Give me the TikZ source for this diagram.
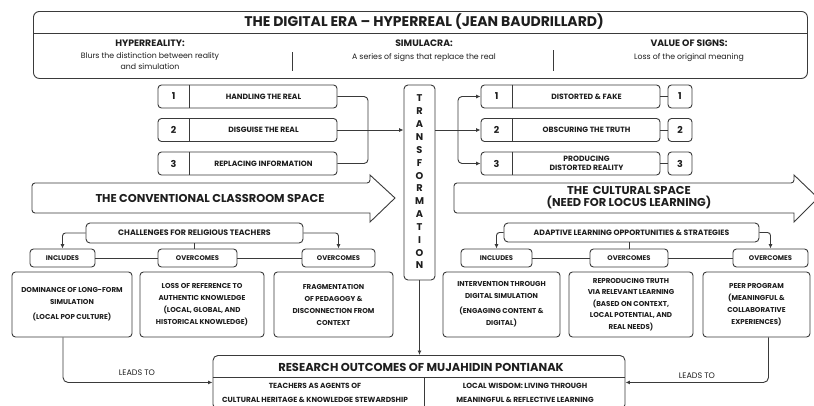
\documentclass[tikz,border=0pt]{standalone}
\usepackage{fontspec}
\setmainfont{Poppins}
\usetikzlibrary{arrows.meta,calc}
\definecolor{lc}{HTML}{3A3A3A}
\definecolor{tc}{HTML}{1E1E1E}
\newcommand{\fsz}[2]{\fontsize{#1}{#2}\selectfont}
\begin{document}
\begin{tikzpicture}[x=1pt,y=-1pt,
  box/.style={draw=lc, line width=0.9pt, rounded corners=3.5pt, fill=white, inner sep=0pt, text=tc},
  bt/.style={font=\bfseries\fsz{7.6}{9}, text=tc, align=center, inner sep=0pt},
  num/.style={font=\bfseries\fsz{9.5}{10}, text=tc, inner sep=0pt},
  ct/.style={box, font=\bfseries\fsz{7.1}{12}, align=center},
  tag/.style={box, font=\bfseries\fsz{6.8}{8}, minimum height=18pt},
  arr/.style={-{Latex[length=4.5pt,width=4pt]}, draw=lc, line width=0.9pt},
  ln/.style={draw=lc, line width=0.9pt},
  hd/.style={font=\bfseries\fsz{9.3}{10}, text=tc, inner sep=0pt},
  ds/.style={font=\fsz{7.8}{11}, text=tc, inner sep=0pt, align=center},
  lt/.style={font=\fsz{8}{9}, text=tc, inner sep=0pt},
  bigt/.style={font=\bfseries\fsz{11.4}{11.5}, text=tc, inner sep=0pt, align=center}
]
\useasboundingbox (0,0) rectangle (814,405);
\fill[white] (0,0) rectangle (814,405);

% ---- top header ----
\node[box, minimum width=774pt, minimum height=67pt, anchor=north west, rounded corners=6pt] (top) at (33,11) {};
\coordinate (tdv) at (0,33);
\draw[ln] (top.west |- tdv) -- (top.east |- tdv);
\node[font=\bfseries\fsz{14}{16}, text=tc, inner sep=0pt] (title) at (424,22) {THE DIGITAL ERA – HYPERREAL (JEAN BAUDRILLARD)};
\node[hd] (h1) at (150,43.5) {HYPERREALITY:};
\node[ds] (d1) at (150,61) {Blurs the distinction between reality\\and simulation};
\node[hd] (h2) at (424,43.5) {SIMULACRA:};
\node[ds] (d2) at (424,58) {A series of signs that replace the real};
\node[hd] (h3) at (689,43.5) {VALUE OF SIGNS:};
\node[ds] (d3) at (689,58) {Loss of the original meaning};
\coordinate (v1a) at (292,52); \coordinate (v1b) at (292,71);
\coordinate (v2a) at (553,50); \coordinate (v2b) at (553,71);
\draw[ln] (v1a) -- (v1b);
\draw[ln] (v2a) -- (v2b);

% ---- transformation ----
\node[box, minimum width=31pt, minimum height=195pt, rounded corners=4pt] (tr) at (419.5,182.5) {};
\node[font=\bfseries\fsz{9.8}{12.85}, text=tc, align=center, inner sep=0pt] (trt) at (419.5,182) {T\\R\\A\\N\\S\\F\\O\\R\\M\\A\\T\\I\\O\\N};

% ---- left steps ----
\foreach \i/\y/\t in {1/96.5/HANDLING THE REAL, 2/130/DISGUISE THE REAL, 3/163.5/REPLACING INFORMATION}{
  \node[box, minimum width=179pt, minimum height=23pt] (l\i) at (247.5,\y) {};
  \draw[ln] ([xshift=32pt]l\i.north west) -- ([xshift=32pt]l\i.south west);
  \node[num] (l\i n) at ([xshift=16pt]l\i.west) {\i};
  \node[bt] (l\i t) at ([xshift=16pt]l\i.center) {\t};
}
\coordinate (bk) at (368,130);
\draw[ln, rounded corners=4pt] (l1.east) -| (bk) |- (l3.east);
\draw[arr] (l2.east) -- (l2.east -| tr.west);

% ---- right steps ----
\foreach \i/\y in {1/96.5, 2/130, 3/163.5}{
  \node[box, minimum width=179pt, minimum height=23pt] (r\i) at (570.5,\y) {};
  \draw[ln] ([xshift=32pt]r\i.north west) -- ([xshift=32pt]r\i.south west);
  \node[num] (r\i n) at ([xshift=16pt]r\i.west) {\i};
  \node[box, minimum width=24pt, minimum height=23pt] (s\i) at (680,\y) {};
  \node[num] (s\i n) at (s\i) {\i};
  \draw[ln] (r\i.east) -- (s\i.west);
}
\node[bt] (r1t) at ([xshift=16pt]r1.center) {DISTORTED \& FAKE};
\node[bt] (r2t) at ([xshift=16pt]r2.center) {OBSCURING THE TRUTH};
\node[bt, font=\bfseries\fsz{7.6}{9}] (r3t) at ([xshift=16pt]r3.center) {PRODUCING\\DISTORTED REALITY};
\coordinate (sp) at (458,130);
\draw[ln] (tr.east |- r2.west) -- (sp);
\draw[arr] (sp) -- (r2.west);
\draw[arr, rounded corners=4pt] (sp) |- (r1.west);
\draw[arr, rounded corners=4pt] (sp) |- (r3.west);

% ---- big arrows ----
\draw[ln, fill=white] (32,198) [rounded corners=3pt] -- (32,183) -- (370,183) [sharp corners] -- (370,175) -- (395,198) -- (370,222) -- (370,213) [rounded corners=3pt] -- (32,213) [sharp corners] -- (32,198);
\node[bigt] (cls) at (210,198) {THE CONVENTIONAL CLASSROOM SPACE};
\draw[ln, fill=white] (454,198) [rounded corners=3pt] -- (454,183) -- (794,183) [sharp corners] -- (794,175) -- (818,198) -- (794,222) -- (794,213) [rounded corners=3pt] -- (454,213) [sharp corners] -- (454,198);
\node[bigt] (cul) at (629,197.5) {THE\, CULTURAL SPACE\\(NEED FOR LOCUS LEARNING)};

% ---- left lower ----
\node[box, font=\bfseries\fsz{7.9}{8}, minimum width=217pt, minimum height=20pt, rounded corners=4pt] (ch) at (194.5,233) {CHALLENGES FOR RELIGIOUS TEACHERS};
\node[tag, minimum width=65pt] (i1) at (62.5,258) {INCLUDES};
\node[tag, minimum width=79pt] (o1) at (197.5,258) {OVERCOMES};
\node[tag, minimum width=73pt] (o2) at (338.5,258) {OVERCOMES};
\draw[arr, rounded corners=3pt] (ch.west) -| (i1.north);
\draw[arr, rounded corners=3pt] (ch.east) -| (o2.north);
\draw[ln] (ch.south) -- (ch.south |- o1.north);
\draw[ln] (i1.east) -- (o1.west);
\draw[ln] (o1.east) -- (o2.west);
\node[ct, minimum width=120pt, minimum height=65pt] (A) at (72,304.5) {DOMINANCE OF LONG-FORM\\SIMULATION\\[3pt](LOCAL POP CULTURE)};
\node[ct, minimum width=124pt, minimum height=65pt] (B) at (202,304.5) {LOSS OF REFERENCE TO\\AUTHENTIC KNOWLEDGE\\(LOCAL, GLOBAL, AND\\HISTORICAL KNOWLEDGE)};
\node[ct, minimum width=119pt, minimum height=65pt] (C) at (333.5,304.5) {FRAGMENTATION\\OF PEDAGOGY \&\\DISCONNECTION FROM\\CONTEXT};

% ---- right lower ----
\node[box, font=\bfseries\fsz{7.7}{8}, minimum width=255pt, minimum height=19pt, rounded corners=4pt] (ad) at (631.5,232.5) {ADAPTIVE LEARNING OPPORTUNITIES \& STRATEGIES};
\node[tag, minimum width=71pt] (i2) at (496.5,258) {INCLUDES};
\node[tag, minimum width=78pt] (o3) at (629,258) {OVERCOMES};
\node[tag, minimum width=75pt] (o4) at (770.5,258) {OVERCOMES};
\draw[arr, rounded corners=3pt] (ad.west) -| (i2.north);
\draw[arr, rounded corners=3pt] (ad.east) -| (o4.north);
\draw[ln] (ad.south -| o3.north) -- (o3.north);
\draw[ln] (i2.east) -- (o3.west);
\draw[ln] (o3.east) -- (o4.west);
\node[ct, minimum width=117pt, minimum height=65pt] (D) at (501.5,304.5) {INTERVENTION THROUGH\\DIGITAL SIMULATION\\[3pt](ENGAGING CONTENT \&\\DIGITAL)};
\node[ct, font=\bfseries\fsz{7.1}{11.5}, minimum width=124pt, minimum height=65pt] (E) at (631,304.5) {REPRODUCING TRUTH\\VIA RELEVANT LEARNING\\(BASED ON CONTEXT,\\LOCAL POTENTIAL, AND\\REAL NEEDS)};
\node[ct, minimum width=107pt, minimum height=65pt] (F) at (756.5,304.5) {PEER PROGRAM\\(MEANINGFUL \&\\COLLABORATIVE\\EXPERIENCES)};

% ---- research outcomes ----
\node[box, minimum width=412pt, minimum height=54pt, anchor=north, rounded corners=5pt] (rs) at (419,355) {};
\coordinate (rdv) at (0,377);
\draw[ln] (rs.west |- rdv) -- (rs.east |- rdv);
\coordinate (rva) at (424,377); \coordinate (rvb) at (424,410);
\draw[ln] (rva) -- (rvb);
\node[font=\bfseries\fsz{11.5}{12}, text=tc, inner sep=0pt] (rst) at (421,367) {RESEARCH OUTCOMES OF MUJAHIDIN PONTIANAK};
\node[font=\bfseries\fsz{7.4}{14.5}, text=tc, inner sep=0pt, align=center] (rl) at (315,393) {TEACHERS AS AGENTS OF\\CULTURAL HERITAGE \& KNOWLEDGE STEWARDSHIP};
\node[font=\bfseries\fsz{7.4}{14.5}, text=tc, inner sep=0pt, align=center] (rr) at (525,393) {LOCAL WISDOM: LIVING THROUGH\\MEANINGFUL \& REFLECTIVE LEARNING};

\draw[arr] (tr.south) -- (tr.south |- rs.north);
\draw[arr, rounded corners=5pt] ([xshift=-9pt]A.south) |- (rs.west);
\draw[arr, rounded corners=5pt] ([xshift=12pt]F.south) |- (rs.east);
\node[lt] (ld1) at (137,373) {LEADS TO};
\node[lt] (ld2) at (697,376) {LEADS TO};
\end{tikzpicture}
\end{document}
